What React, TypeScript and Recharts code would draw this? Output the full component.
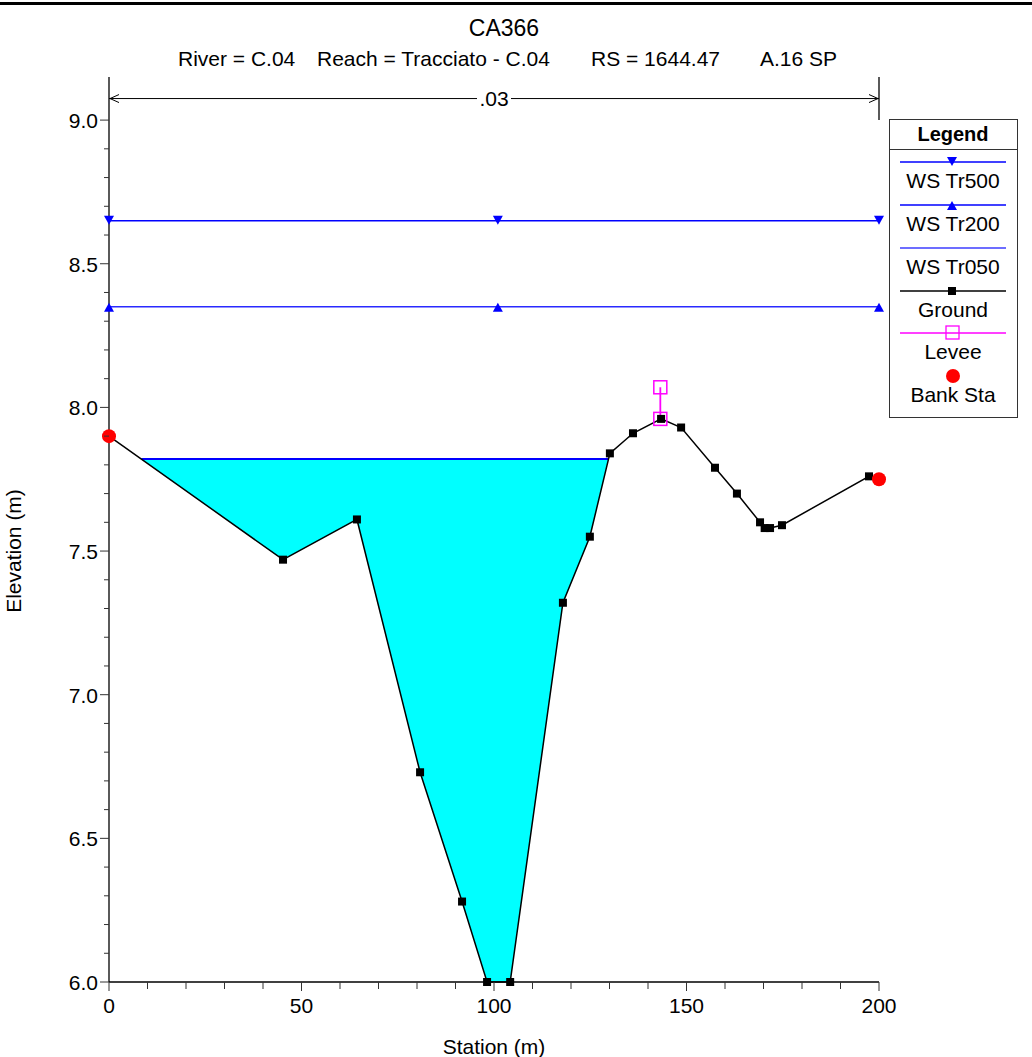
import React from 'react';
import { ComposedChart, Line, Area, Scatter, XAxis, YAxis, ReferenceLine } from 'recharts';

const FONT = '"Liberation Sans", Arial, Helvetica, sans-serif';

// cross section CA366 - station (m) / elevation (m)
const STATION = [0, 45.2, 64.4, 80.8, 91.7, 98.2, 104.2, 117.9, 124.9, 130.1, 136.1, 143.4, 148.6, 157.4, 163.1, 169.1, 170.3, 171.7, 174.8, 197.4, 200];
const GROUND = [7.9, 7.47, 7.61, 6.73, 6.28, 6.0, 6.0, 7.32, 7.55, 7.84, 7.91, 7.96, 7.93, 7.79, 7.7, 7.6, 7.58, 7.58, 7.59, 7.76, 7.75];

// water surfaces
const WS_TR500 = 8.65;
const WS_TR200 = 8.35;
const WS_TR050 = 7.82;
const WS_MARK_STATIONS = [0, 101, 200];

const LEVEE_STATION = 143.2;
const LEVEE_ELEV = [7.96, 8.07];

const BANK_STATION = [0, 200];
const BANK_ELEV = [7.9, 7.75];

const MANNING_N = '.03';
const MANNING_ELEV = 9.075;

const X_MAJOR = [0, 50, 100, 150, 200];
const X_TICKS = Array.from({ length: 21 }, (_, i) => i * 10);
const Y_TICKS = Array.from({ length: 31 }, (_, i) => +(6 + i * 0.1).toFixed(1));
const Y_DOMAIN = [6, 9.15];

const groundData = STATION.map((x, i) => ({ x, y: GROUND[i] }));
const wsData = (elev: number) => WS_MARK_STATIONS.map((x) => ({ x, y: elev }));
const leveeData = LEVEE_ELEV.map((y) => ({ x: LEVEE_STATION, y }));
const bankData = BANK_STATION.map((x, i) => ({ x, y: BANK_ELEV[i] }));

// wetted polygon of the main channel (left of the levee), as [ground, ws] ranges
function wetted(ws: number, limit: number) {
  const pts: { x: number; y: number[] }[] = [];
  for (let i = 0; i < STATION.length - 1; i++) {
    if (STATION[i] >= limit) break;
    const a = GROUND[i];
    const b = GROUND[i + 1];
    if (a < ws) pts.push({ x: STATION[i], y: [a, ws] });
    if ((a - ws) * (b - ws) < 0) {
      const t = (ws - a) / (b - a);
      pts.push({ x: STATION[i] + t * (STATION[i + 1] - STATION[i]), y: [ws, ws] });
    }
  }
  return pts;
}
const wetData = wetted(WS_TR050, LEVEE_STATION);
const ws050Line = [wetData[0], wetData[wetData.length - 1]].map((p) => ({ x: p.x, y: WS_TR050 }));

const XTick = (props: any) => {
  const { x, y, payload } = props;
  const v = payload.value;
  const major = X_MAJOR.includes(v);
  return (
    <g>
      <line x1={x} x2={x} y1={y} y2={y + (major ? 9 : 7)} stroke="#333" />
      {major && (
        <text x={x} y={y + 31} textAnchor="middle" fontSize={21} fontFamily={FONT} fill="#000">
          {v}
        </text>
      )}
    </g>
  );
};

const YTick = (props: any) => {
  const { x, y, payload } = props;
  const v = payload.value as number;
  const major = Math.abs(v * 2 - Math.round(v * 2)) < 1e-6;
  return (
    <g>
      <line x1={x - (major ? 9 : 5)} x2={x} y1={y} y2={y} stroke="#333" />
      {major && (
        <text x={x - 11} y={y + 8} textAnchor="end" fontSize={21} fontFamily={FONT} fill="#000">
          {v.toFixed(1)}
        </text>
      )}
    </g>
  );
};

const DimLine = (p: any) => {
  const { x1, y1, x2 } = p;
  const mid = (x1 + x2) / 2;
  return (
    <g stroke="#000" fill="none" strokeWidth={1}>
      <line x1={x1} y1={y1} x2={mid - 17} y2={y1} />
      <line x1={mid + 17} y1={y1} x2={x2} y2={y1} />
      <polyline points={`${x1 + 10},${y1 - 4} ${x1 + 1},${y1} ${x1 + 10},${y1 + 4}`} />
      <polyline points={`${x2 - 10},${y1 - 4} ${x2 - 1},${y1} ${x2 - 10},${y1 + 4}`} />
      <text x={mid} y={y1 + 7} textAnchor="middle" fontSize={21} fontFamily={FONT} fill="#000" stroke="none">
        {MANNING_N}
      </text>
    </g>
  );
};

const square = (size: number, fill: string, stroke?: string) => (p: any) => (
  <rect
    key={`sq-${p.index}`}
    x={p.cx - size / 2}
    y={p.cy - size / 2}
    width={size}
    height={size}
    fill={fill}
    stroke={stroke || 'none'}
    strokeWidth={1.5}
  />
);

const triangle = (down: boolean, fill: string) => (p: any) => {
  const { cx, cy } = p;
  const pts = down
    ? `${cx - 5},${cy - 5} ${cx + 5},${cy - 5} ${cx},${cy + 4}`
    : `${cx - 5},${cy + 5} ${cx + 5},${cy + 5} ${cx},${cy - 4}`;
  return <polygon key={`tr-${p.index}`} points={pts} fill={fill} />;
};

const LEGEND_ITEMS = [
  { label: 'WS Tr500', y: 162, color: '#0000ff', mark: 'down' },
  { label: 'WS Tr200', y: 205, color: '#0000ff', mark: 'up' },
  { label: 'WS Tr050', y: 248, color: '#3c3cff', mark: 'none' },
  { label: 'Ground', y: 291, color: '#000000', mark: 'square' },
  { label: 'Levee', y: 333, color: '#ff00ff', mark: 'open' },
  { label: 'Bank Sta', y: 376, color: '#ff0000', mark: 'dot' },
];

const Overlay = () => (
  <svg width={1032} height={1057} style={{ position: 'absolute', left: 0, top: 0, pointerEvents: 'none' }}>
    <text x={504} y={36} textAnchor="middle" fontSize={23} fontFamily={FONT}>CA366</text>
    <g fontSize={21} fontFamily={FONT}>
      <text x={178} y={66}>River = C.04</text>
      <text x={317} y={66}>Reach = Tracciato - C.04</text>
      <text x={591} y={66}>RS = 1644.47</text>
      <text x={760} y={66}>A.16 SP</text>
    </g>
    <text x={494} y={1054} textAnchor="middle" fontSize={21} fontFamily={FONT}>Station (m)</text>
    <text x={21} y={551} textAnchor="middle" fontSize={21} fontFamily={FONT} transform="rotate(-90 21 551)">
      Elevation (m)
    </text>
    <g fontFamily={FONT}>
      <rect x={889.5} y={119.5} width={128} height={298} fill="#fff" stroke="#333" />
      <text x={953} y={141} textAnchor="middle" fontSize={20} fontWeight="bold">Legend</text>
      <line x1={889.5} x2={1017.5} y1={149.5} y2={149.5} stroke="#333" />
      {LEGEND_ITEMS.map((it) => (
        <g key={it.label}>
          {it.mark !== 'dot' && <line x1={900} x2={1006} y1={it.y} y2={it.y} stroke={it.color} strokeWidth={1.3} />}
          {it.mark === 'down' && triangle(true, it.color)({ cx: 952, cy: it.y, index: 0 })}
          {it.mark === 'up' && triangle(false, it.color)({ cx: 952, cy: it.y, index: 0 })}
          {it.mark === 'square' && <rect x={948} y={it.y - 4} width={8} height={8} fill="#000" />}
          {it.mark === 'open' && <rect x={946} y={it.y - 7} width={13} height={13} fill="none" stroke={it.color} strokeWidth={1.3} />}
          {it.mark === 'dot' && <circle cx={953} cy={it.y} r={7} fill={it.color} />}
          <text x={953} y={it.y + 26} textAnchor="middle" fontSize={21}>{it.label}</text>
        </g>
      ))}
    </g>
  </svg>
);

export default function App() {
  return (
    <div style={{ position: 'absolute', left: 0, top: 0, width: 1032, height: 1057, background: '#fff', fontFamily: FONT }}>
      <div style={{ position: 'absolute', left: 0, top: 2, width: 1032, height: 3, background: '#000' }} />
      <ComposedChart width={1032} height={1057} margin={{ top: 77, right: 153, bottom: 0, left: 0 }}>
        <XAxis
          type="number"
          dataKey="x"
          domain={[0, 200]}
          ticks={X_TICKS}
          interval={0}
          height={75}
          tickSize={0}
          tickMargin={0}
          tick={<XTick />}
          axisLine={{ stroke: '#000', strokeWidth: 1.3 }}
          tickLine={false}
        />
        <YAxis
          type="number"
          dataKey="y"
          domain={Y_DOMAIN}
          ticks={Y_TICKS}
          interval={0}
          width={109}
          tickSize={0}
          tickMargin={0}
          tick={<YTick />}
          axisLine={{ stroke: '#000', strokeWidth: 1.3 }}
          tickLine={false}
        />
        <ReferenceLine
          segment={[{ x: 0, y: MANNING_ELEV }, { x: 200, y: MANNING_ELEV }]}
          ifOverflow="visible"
          shape={DimLine}
        />
        <ReferenceLine
          segment={[{ x: 200, y: Y_DOMAIN[1] }, { x: 200, y: 9.0 }]}
          ifOverflow="visible"
          stroke="#000"
          strokeWidth={1.3}
        />
        <Area
          data={wetData}
          dataKey="y"
          type="linear"
          stroke="none"
          fill="#00ffff"
          fillOpacity={1}
          isAnimationActive={false}
          activeDot={false}
        />
        <Line data={ws050Line} dataKey="y" type="linear" stroke="#0000ff" strokeWidth={2} dot={false} activeDot={false} isAnimationActive={false} />
        <Line data={wsData(WS_TR500)} dataKey="y" type="linear" stroke="#0000ff" strokeWidth={1.5} dot={triangle(true, '#0000ff')} activeDot={false} isAnimationActive={false} />
        <Line data={wsData(WS_TR200)} dataKey="y" type="linear" stroke="#2a2aff" strokeWidth={1.5} dot={triangle(false, '#0000ff')} activeDot={false} isAnimationActive={false} />
        <Line data={groundData} dataKey="y" type="linear" stroke="#000" strokeWidth={1.5} dot={square(8, '#000')} activeDot={false} isAnimationActive={false} />
        <Line data={leveeData} dataKey="y" type="linear" stroke="#ff00ff" strokeWidth={1.8} dot={square(13, 'none', '#ff00ff')} activeDot={false} isAnimationActive={false} />
        <Scatter
          data={bankData}
          dataKey="y"
          fill="#ff0000"
          isAnimationActive={false}
          shape={(p: any) => <circle cx={p.cx} cy={p.cy} r={7} fill="#ff0000" />}
        />
      </ComposedChart>
      <Overlay />
    </div>
  );
}
